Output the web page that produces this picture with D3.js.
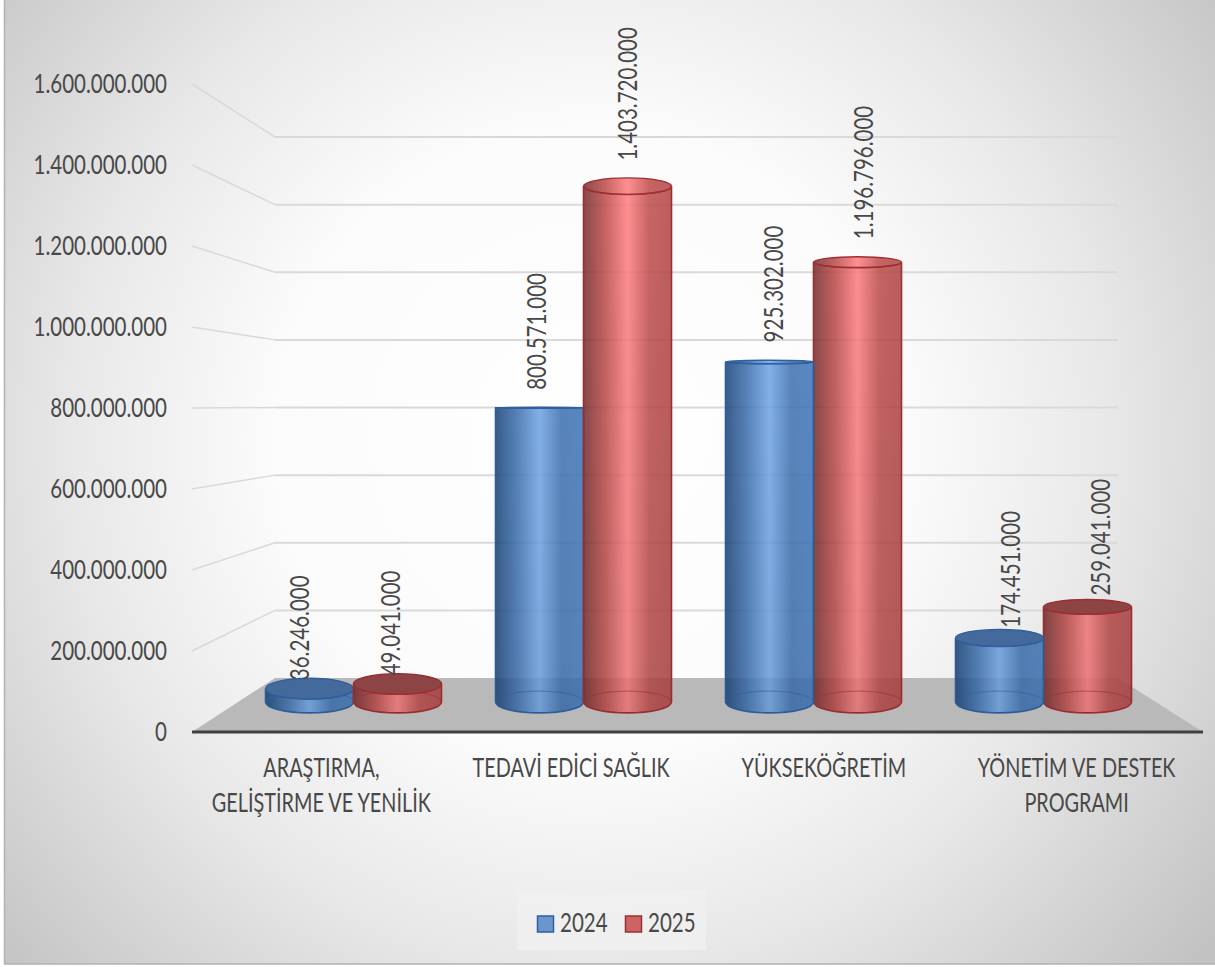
<!DOCTYPE html>
<html><head><meta charset="utf-8">
<script src="https://cdn.jsdelivr.net/npm/d3@7/dist/d3.min.js"></script>
<style>html,body{margin:0;padding:0;background:#fff}svg{display:block}
text{font-family:Lato,sans-serif;fill:#484848}</style>
</head><body><svg id="c" width="1215" height="967"></svg>
<script>
const categories=[["ARAŞTIRMA,","GELİŞTİRME VE YENİLİK"],["TEDAVİ EDİCİ SAĞLIK"],["YÜKSEKÖĞRETİM"],["YÖNETİM VE DESTEK","PROGRAMI"]];
const seriesNames=["2024","2025"];
const values2024=[36246000,800571000,925302000,174451000];
const values2025=[49041000,1403720000,1196796000,259041000];
const yTicks=[0,200000000,400000000,600000000,800000000,1000000000,1200000000,1400000000,1600000000];
const seriesColors=[
 {edge:"#2f5f9c",stops:["rgba(23,67,122,.85)","rgba(61,114,179,.85)","rgba(113,168,236,.85)","rgba(61,114,179,.85)","rgba(61,120,190,.85)"],cap:"#44699b",sw:"#6a96cf"},
 {edge:"#9c2f33",stops:["rgba(118,42,42,.85)","rgba(190,73,73,.85)","rgba(255,125,125,.85)","rgba(190,73,73,.85)","rgba(178,67,67,.85)"],cap:"#8c4445",sw:"#cd6463"}];

const fmt=v=>String(v).replace(/\B(?=(\d{3})+(?!\d))/g,".");
const W=1215,H=967,svg=d3.select("#c");
const narrow=0.76, catNarrow=0.735, fontSize=27;
const defs=svg.append("defs");
const bg=defs.append("radialGradient").attr("id","bg").attr("gradientUnits","userSpaceOnUse")
 .attr("cx",590).attr("cy",440).attr("r",800);
[[0,"#ffffff"],[.4,"#fbfbfb"],[.65,"#e8e8e8"],[1,"#c2c2c2"]].forEach(s=>bg.append("stop").attr("offset",s[0]).attr("stop-color",s[1]));
seriesColors.forEach((c,i)=>{
 const g=defs.append("linearGradient").attr("id","g"+i).attr("x1",0).attr("x2",1).attr("y1",0).attr("y2",0);
 c.stops.forEach((s,k)=>g.append("stop").attr("offset",k/4).attr("stop-color",s));
});
const shade=defs.append("linearGradient").attr("id","shade").attr("gradientUnits","userSpaceOnUse")
 .attr("x1",0).attr("x2",0).attr("y1",180).attr("y2",710);
shade.append("stop").attr("offset",0).attr("stop-color","#000").attr("stop-opacity",0);
shade.append("stop").attr("offset",1).attr("stop-color","#000").attr("stop-opacity",.07);
svg.append("rect").attr("x",4.5).attr("y",-3).attr("width",W).attr("height",967).attr("fill","url(#bg)").attr("stroke","#b5b5b5").attr("stroke-width",1.6);

const yMax=1600000000;
const yFront=d3.scaleLinear().domain([0,yMax]).range([732,84]);
const yBack=d3.scaleLinear().domain([0,yMax]).range([678,137]);
const yBar=d3.scaleLinear().domain([0,yMax]).range([702,114]);
const yLabel=d3.scaleLinear().domain([0,yMax]).range([694,86]);
const xLeft=192,xBackL=275,xBackR=1118,xRight=1203,horizon=408;

function label(parent,x,y,s,anchor,rot,k=narrow){
 return parent.append("text").attr("transform",`translate(${x},${y})${rot?" rotate(-90)":""} scale(${k},1)`)
  .attr("text-anchor",anchor).attr("font-size",fontSize).text(s);
}

svg.append("path").attr("d",d3.line()([[xLeft,732],[xBackL,678],[xBackR,678],[xRight,732]])+"Z").attr("fill","#b9b9b9");
const grid=svg.append("g").attr("fill","none").attr("stroke","#d9d9d9");
yTicks.slice(1).forEach(t=>{
 grid.append("line").attr("x1",xLeft).attr("y1",yFront(t)).attr("x2",xBackL).attr("y2",yBack(t)).attr("stroke-width",1.5);
 grid.append("line").attr("x1",xBackL).attr("y1",yBack(t)).attr("x2",xBackR).attr("y2",yBack(t)).attr("stroke-width",2);
});
svg.append("line").attr("x1",xLeft).attr("x2",xRight).attr("y1",732).attr("y2",732).attr("stroke","#404040").attr("stroke-width",3);

const axisY=d3.axisLeft(yFront).tickValues(yTicks).tickFormat(fmt).tickSize(0).tickPadding(25);
const ga=svg.append("g").attr("transform",`translate(${xLeft},0)`).call(axisY);
ga.select(".domain").remove();
ga.attr("font-family",null).attr("font-size",fontSize);
ga.selectAll(".tick text").attr("transform",function(){const x=+d3.select(this).attr("x");d3.select(this).attr("x",x/narrow);return `scale(${narrow},1)`;});

const xFront=d3.scaleBand().domain(d3.range(4)).range([xLeft,xRight]);
const cat=svg.append("g");
categories.forEach((lines,i)=>lines.forEach((s,j)=>label(cat,xFront(i)+xFront.bandwidth()/2+(i==0?3:0),777+j*35,s,"middle",false,catNarrow)));

const x0=d3.scaleBand().domain(d3.range(4)).range([238.5,1158.5]);
const x1=d3.scaleBand().domain([0,1]).range([x0.bandwidth()/2-88,x0.bandwidth()/2+88]);
const bw=x1.bandwidth();
const rx=bw/2, ryAt=y=>Math.abs(y-horizon)*0.037;
const all=[];
[values2024,values2025].forEach((vals,s)=>vals.forEach((v,i)=>all.push({v,i,s})));
all.sort((a,b)=>a.i-b.i||(a.i>=2?b.s-a.s:a.s-b.s));
const bars=svg.append("g"),vals=svg.append("g");
all.forEach(d=>{
 const c=seriesColors[d.s],L=x0(d.i)+x1(d.s),R=L+bw,cx=L+rx;
 const yt=yBar(d.v),yb=yBar(0),rt=ryAt(yt),rb=ryAt(yb);
 const g=bars.append("g");
 const body=`M${L},${yt}L${L},${yb}A${rx},${rb} 0 0 0 ${R},${yb}L${R},${yt}A${rx},${rt} 0 0 1 ${L},${yt}Z`;
 g.append("path").attr("d",body).attr("fill",`url(#g${d.s})`).attr("stroke",c.edge).attr("stroke-width",1.6);
 g.append("path").attr("d",body).attr("fill","url(#shade)");
 g.append("path").attr("d",`M${L},${yb}A${rx},${rb} 0 0 1 ${R},${yb}`).attr("fill","none").attr("stroke",c.edge).attr("stroke-opacity",.5).attr("stroke-width",1.4);
 g.append("ellipse").attr("cx",cx).attr("cy",yt).attr("rx",rx).attr("ry",Math.max(rt,.5))
  .attr("fill",yt<horizon?`url(#g${d.s})`:c.cap)
  .attr("stroke",c.edge).attr("stroke-width",1.4);
 const lx=cx+(cx-627)*0.03;
 label(vals,lx+9,yLabel(d.v),fmt(d.v),"start",true);
});

svg.append("rect").attr("x",517).attr("y",890).attr("width",189).attr("height",60).attr("fill","#f0f0f0").attr("fill-opacity",.8);
const lg=svg.append("g");
const lx=d3.scalePoint().domain(seriesNames).range([537,625]);
seriesNames.forEach((n,i)=>{
 lg.append("rect").attr("x",lx(n)+.5).attr("y",916).attr("width",16).attr("height",16)
  .attr("fill",seriesColors[i].sw).attr("stroke",seriesColors[i].edge).attr("stroke-width",1.5);
 label(lg,lx(n)+23,932,n,"start");
});
</script></body></html>
